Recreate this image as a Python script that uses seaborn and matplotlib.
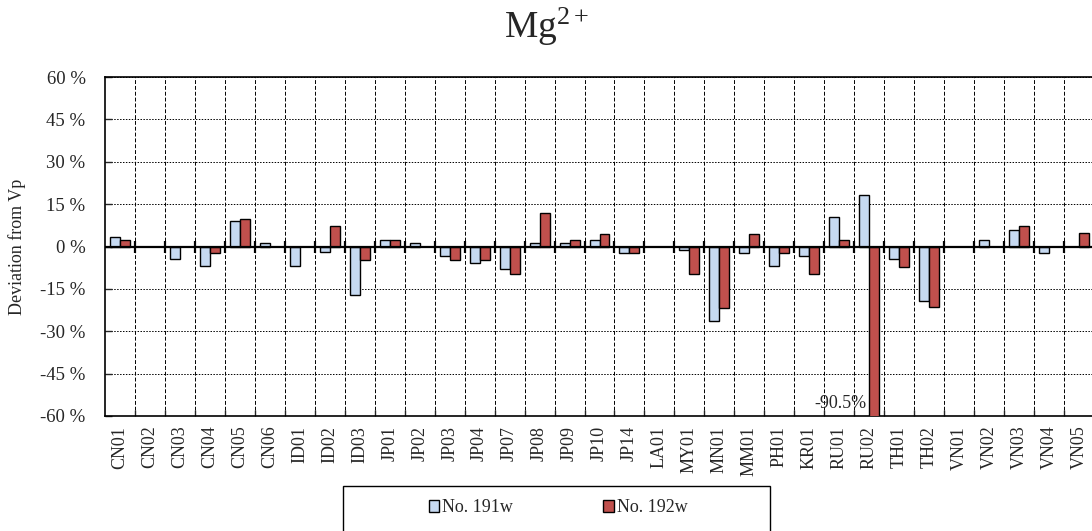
import numpy as np
import pandas as pd
import matplotlib
matplotlib.use("Agg")
import matplotlib.pyplot as plt
import seaborn as sns
from matplotlib.ticker import FixedLocator, FuncFormatter

sites = ["CN01", "CN02", "CN03", "CN04", "CN05", "CN06", "ID01", "ID02", "ID03",
         "JP01", "JP02", "JP03", "JP04", "JP07", "JP08", "JP09", "JP10", "JP14",
         "LA01", "MY01", "MN01", "MM01", "PH01", "KR01", "RU01", "RU02", "TH01",
         "TH02", "VN01", "VN02", "VN03", "VN04", "VN05"]
nan = np.nan
dev_191w = [3.5, nan, -4.5, -6.8, 9.1, 1.2, -6.8, -2.1, -17.1,
            2.4, 1.2, -3.3, -5.8, -8.0, 1.1, 1.1, 2.2, -2.3,
            nan, -1.2, -26.3, -2.3, -6.8, -3.4, 10.3, 18.3, -4.5,
            -19.4, nan, 2.4, 5.8, -2.3, nan]
dev_192w = [2.4, nan, nan, -2.4, 9.6, nan, nan, 7.1, -4.7,
            2.4, nan, -4.7, -4.7, -9.7, 11.8, 2.4, 4.6, -2.3,
            nan, -9.7, -21.6, 4.6, -2.2, -9.6, 2.4, -90.5, -7.1,
            -21.3, nan, nan, 7.1, nan, 4.8]
series = ["No. 191w", "No. 192w"]
colors = ["#C6D9F1", "#C0504D"]

df = pd.DataFrame({
    "site": sites * 2,
    "sample": [series[0]] * len(sites) + [series[1]] * len(sites),
    "dev": dev_191w + dev_192w,
})

sns.set_style("white")
plt.rcParams["font.family"] = ["Liberation Serif", "DejaVu Serif"]
plt.rcParams["mathtext.fontset"] = "custom"
plt.rcParams["mathtext.rm"] = "Liberation Serif"
plt.rcParams["mathtext.it"] = "Liberation Serif:italic"

fig = plt.figure(figsize=(10.92, 5.31), dpi=100)
ax = fig.add_axes([105 / 1092, 1 - 416 / 531, 989 / 1092, 339 / 531])

sns.barplot(data=df, x="site", y="dev", hue="sample", order=sites,
            hue_order=series, palette=colors, saturation=1, edgecolor="black",
            linewidth=1, width=2 / 3, gap=0, errorbar=None, ax=ax, zorder=3)

n = len(sites)
bounds = np.arange(0.5, n - 0.5)
ax.set_xlim(-0.5, n - 0.5)
ax.set_ylim(-60, 60)
ax.yaxis.set_major_locator(FixedLocator(np.arange(-60, 61, 15)))
ax.yaxis.set_major_formatter(FuncFormatter(lambda v, p: f"{v:.0f} %"))
ax.xaxis.set_minor_locator(FixedLocator(bounds))

ax.grid(axis="y", which="major", color="black", linestyle=(0, (1.5, 1.5)), linewidth=0.7)
ax.grid(axis="x", which="minor", color="black", linestyle=(0, (4, 2)), linewidth=0.7)
ax.set_axisbelow(True)

ax.tick_params(axis="x", which="major", length=0, pad=7, labelsize=13, rotation=90)
ax.tick_params(axis="x", which="minor", direction="in", length=4, width=1, bottom=True)
ax.tick_params(axis="y", direction="in", length=5, width=1, pad=14, labelsize=13.5, left=True)

ax.axhline(0, color="black", linewidth=1.6, zorder=4)
ax.plot(bounds, np.zeros(len(bounds)), linestyle="none", marker="|",
        markersize=9, markeredgewidth=1.6, color="black", zorder=4)

for side in ["left", "bottom", "top"]:
    ax.spines[side].set_visible(True)
    ax.spines[side].set_color("black")
    ax.spines[side].set_linewidth(1.2)
ax.spines["right"].set_visible(False)

ax.set_xlabel("")
ax.set_ylabel("Deviation from Vp", fontsize=13, labelpad=10)

ru02 = sites.index("RU02")
ax.text(ru02 - 0.1, -55.5, f"{dev_192w[ru02]}%", ha="right", va="center", fontsize=13, zorder=5)

fig.text(0.5, 1 - 38 / 531, r"Mg$^{2+}$", ha="center", va="baseline", fontsize=27)

handles, labels = ax.get_legend_handles_labels()
ax.get_legend().remove()
fig.legend(handles, labels, loc="center", bbox_to_anchor=(558 / 1092, 1 - 508 / 531),
           ncol=2, frameon=False, fontsize=13, handlelength=0.6, handleheight=0.6,
           handletextpad=0.15, columnspacing=5.0)
fig.patches.append(plt.Rectangle((343 / 1092, -0.05), 427 / 1092, 0.05 + 45 / 531,
                                 transform=fig.transFigure, fill=False,
                                 edgecolor="black", linewidth=1))

fig.savefig("out.png", dpi=100)
